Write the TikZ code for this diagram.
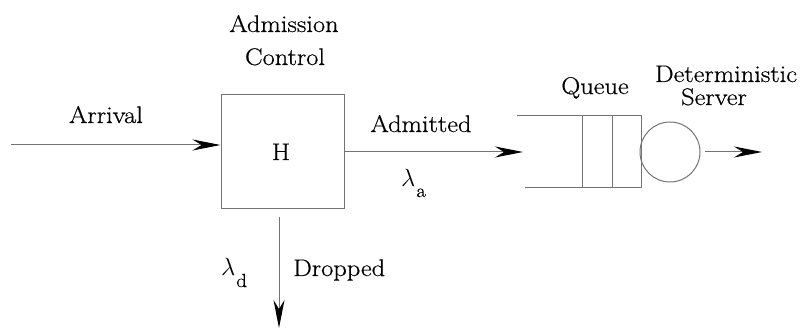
\documentclass[tikz,border=0pt]{standalone}
\usepackage{fontspec}
\newfontfamily\lblfont{Latin Modern Roman}[FakeStretch=1.1, FakeBold=0.6]
\usetikzlibrary{arrows.meta}
\tikzset{
  conn/.style={draw=black!55, line width=1pt, -{Stealth[length=28pt,width=11pt,inset=9pt,color=black]}},
  plain/.style={draw=black!55, line width=1pt},
  lbl/.style={font=\lblfont\fontsize{24}{28}\selectfont, inner sep=0pt, align=center},
  sub/.style={font=\lblfont\fontsize{19}{20}\selectfont, inner sep=0pt},
}
\begin{document}
\begin{tikzpicture}[x=1pt,y=-1pt]
\useasboundingbox (0,0) rectangle (801,331);
% admission box
\node[plain, minimum width=123pt, minimum height=114pt, inner sep=0pt] (box) at (282.5,152) {};
\node[lbl, anchor=base] (h) at (281,160) {H};
\node[lbl, anchor=base] (adm) at (284,32) {Admission};
\node[lbl, anchor=base] (ctl) at (285,65) {Control};
% arrival
\coordinate (arrstart) at (11,145);
\draw[conn] (arrstart) -- (arrstart -| box.west);
\node[lbl, anchor=base] (arrl) at (106,123) {Arrival};
% admitted
\coordinate (admend) at (523,152);
\draw[conn] (box.east) -- (admend);
\node[lbl, anchor=base] (admitted) at (421,132) {Admitted};
\node[lbl, anchor=base west] (la) at (401,187) {$\lambda$};
\node[sub, anchor=base west] (las) at (la.base east) [xshift=0.5pt, yshift=-10pt] {a};
% queue
\coordinate (qtl) at (517,116);
\coordinate (qtr) at (641,116);
\coordinate (qbr) at (641,188);
\coordinate (qbl) at (525,188);
\draw[plain] (qtl) -- (qtr) -- (qbr) -- (qbl);
\draw[plain] (582,116) -- (582,188);
\draw[plain] (612,116) -- (612,188);
\node[lbl, anchor=base] (queue) at (595,94) {Queue};
% server
\node[plain, circle, minimum size=60pt, inner sep=0pt] (srv) at (670,152) {};
\node[lbl, anchor=base] (det) at (726,82) {Deterministic};
\node[lbl, anchor=base] (serv) at (714,105) {Server};
\coordinate (outstart) at (705,152);
\coordinate (outend) at (762,152);
\draw[conn] (outstart) -- (outend);
% dropped
\coordinate (dstart) at (279,217);
\coordinate (dend) at (279,328);
\draw[conn] (dstart) -- (dend);
\node[lbl, anchor=base west] (dropped) at (293,276) {Dropped};
\node[lbl, anchor=base west] (ld) at (221,276) {$\lambda$};
\node[sub, anchor=base west] (lds) at (ld.base east) [xshift=0.5pt, yshift=-11pt] {d};
\end{tikzpicture}
\end{document}
